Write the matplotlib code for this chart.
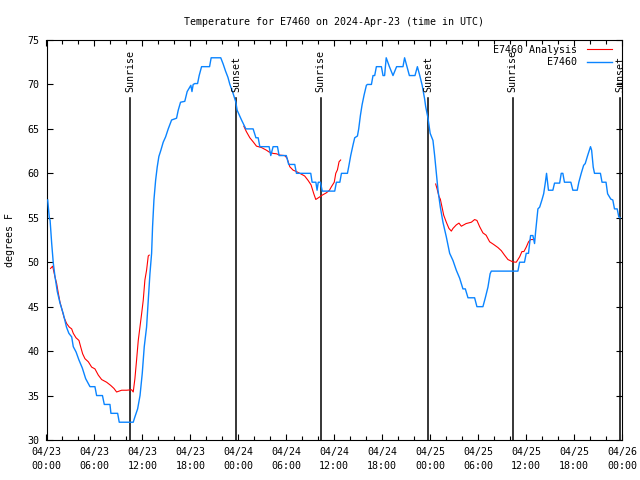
"""Temperature for E7460, observation vs analysis (gnuplot look)."""

from datetime import datetime, timedelta

import matplotlib

matplotlib.use("Agg")
import matplotlib.dates as mdates
import numpy as np
from matplotlib import pyplot as plt

START = datetime(2024, 4, 23)

# hours since 04/23 00:00 UTC
obs_hours = [
    0.15, 0.35, 0.45, 0.65, 0.85, 1.06, 1.35, 1.69, 2.1, 2.5, 2.8, 3.15, 3.35, 3.7,
    4.06, 4.48, 4.9, 5.44, 6.06, 6.27, 7.0, 7.23, 7.94, 8.06, 8.9, 9.1, 10.85,
    11.06, 11.4, 11.7, 11.98, 12.23, 12.52, 12.73, 12.94, 13.15, 13.27, 13.44,
    13.65, 13.85, 14.06, 14.31, 14.6, 14.9, 15.23, 15.65, 16.27, 16.48, 16.77,
    17.3, 17.6, 18.06, 18.2, 18.35, 18.56, 18.9, 19.1, 19.4, 20.4, 20.6, 21.8,
    22.1, 22.4, 22.7, 22.94, 23.27, 23.69, 23.85, 24.4, 24.94, 25.85, 26.2,
    26.48, 26.69, 27.85, 28.06, 28.35, 28.9, 29.1, 30.0, 30.3, 31.06, 31.27,
    33.06, 33.23, 33.7, 33.85, 34.0, 34.27, 34.5, 36.06, 36.27, 36.7, 36.9,
    37.65, 37.8, 38.06, 38.35, 38.56, 38.9, 39.06, 39.27, 39.48, 39.73, 40.02,
    40.15, 40.65, 40.85, 41.06, 41.27, 41.9, 42.1, 42.3, 42.5, 42.9, 43.35,
    43.8, 44.6, 44.8, 45.1, 45.4, 46.1, 46.4, 46.7, 47.0, 47.3, 47.44, 47.73,
    48.0, 48.35, 48.56, 48.77, 48.98, 49.27, 49.6, 50.02, 50.44, 50.85, 51.27,
    51.69, 52.1, 52.4, 52.73, 53.56, 53.85, 54.6, 54.9, 55.23, 55.5, 55.65,
    58.98, 59.19, 59.8, 60.02, 60.3, 60.56, 60.85, 61.06, 61.19, 61.48, 61.7,
    61.98, 62.2, 62.4, 62.56, 62.8, 63.35, 63.56, 64.2, 64.4, 64.6, 64.8, 65.6,
    65.85, 66.4, 66.6, 66.9, 67.2, 67.4, 67.7, 68.06, 68.2, 68.4, 68.56, 69.3,
    69.5, 70.0, 70.2, 70.6, 70.85, 71.06, 71.4, 71.6, 71.75,
]
obs_temps = [
    57.0, 55.0, 54.7, 52.1, 49.9, 48.4, 46.7, 45.4, 44.2, 42.7, 42.0, 41.6, 40.5, 39.9,
    39.0, 38.1, 36.9, 36.0, 36.0, 35.0, 35.0, 34.0, 34.0, 33.0, 33.0, 32.0, 32.0,
    32.6, 33.5, 35.0, 37.5, 40.5, 42.7, 45.7, 48.7, 51.0, 54.0, 57.0,
    59.2, 60.7, 61.9, 62.6, 63.5, 64.1, 65.0, 66.0, 66.2, 67.1, 68.0,
    68.1, 69.2, 69.9, 69.2, 70.0, 70.1, 70.1, 71.0, 72.0, 72.0, 73.0, 73.0,
    72.3, 71.5, 70.8, 70.0, 69.2, 68.0, 67.1, 66.0, 65.0, 65.0, 64.0,
    64.0, 63.0, 63.0, 62.0, 63.0, 63.0, 62.0, 62.0, 61.0, 61.0, 60.0,
    60.0, 59.0, 59.0, 58.1, 59.0, 59.0, 58.0, 58.0, 59.0, 59.0, 60.0,
    60.0, 60.7, 62.0, 63.2, 64.0, 64.2, 65.0, 66.5, 67.7, 68.8, 69.9,
    70.0, 70.0, 71.0, 71.0, 72.0, 72.0, 71.0, 71.0, 73.0, 72.0, 71.0,
    72.0, 72.0, 73.0, 72.0, 71.0, 71.0, 72.0, 71.0, 69.9, 68.4, 67.5, 66.2,
    64.5, 63.7, 62.0, 60.0, 58.1, 56.2, 54.5, 52.85, 51.0, 50.2, 49.1,
    48.2, 47.0, 47.0, 46.0, 46.0, 45.0, 45.0, 46.0, 47.2, 48.7, 49.0,
    49.0, 50.0, 50.0, 51.0, 51.0, 53.0, 53.0, 52.1, 53.4, 56.0, 56.2,
    57.0, 57.7, 58.9, 60.0, 58.1, 58.1, 58.9, 58.9, 60.0, 60.0, 59.0, 59.0,
    58.1, 58.1, 59.0, 60.0, 60.9, 61.1, 62.0, 63.0, 62.6, 60.7, 60.0, 60.0,
    59.0, 59.0, 57.7, 57.1, 57.0, 56.0, 56.0, 55.1, 55.0,
]

# analysis runs, NaN separates the three pieces
ana_hours = [
    0.5, 0.77, 1.06, 1.27, 1.48, 1.69, 1.9, 2.19, 2.52, 2.85, 3.15, 3.35, 3.69,
    4.06, 4.27, 4.52, 4.81, 5.23, 5.65, 6.06, 6.48, 6.9, 7.52, 8.02, 8.44, 8.77,
    9.4, 10.02, 10.65, 10.85, 11.06, 11.27, 11.48, 11.69, 11.9, 12.1, 12.31,
    12.52, 12.73, 12.85, np.nan,
    24.69, 25.0, 25.44, 25.85, 26.27, 26.9, 27.52, 27.85, 28.35, 28.77, 29.19,
    29.8, 30.1, 30.44, 30.85, 31.27, 31.69, 32.3, 32.73, 33.1, 33.44, 33.69,
    34.1, 34.5, 35.0, 35.4, 35.65, 36.0, 36.19, 36.4, 36.6, 36.8, np.nan,
    48.69, 48.85, 49.1, 49.27, 49.52, 49.69, 50.02, 50.35, 50.65, 50.85, 51.27,
    51.6, 51.9, 52.5, 53.15, 53.56, 53.85, 54.19, 54.6, 55.0, 55.44, 55.94,
    56.48, 56.9, 57.3, 57.73, 58.35, 58.77, 59.19, 59.48, 59.73, 60.02, 60.31,
    60.56, 60.85,
]
ana_temps = [
    49.3, 49.55, 48.35, 47.6, 46.5, 45.5, 44.8, 43.8, 43.1, 42.7, 42.5, 42.0, 41.5,
    41.2, 40.5, 39.7, 39.15, 38.8, 38.2, 38.0, 37.3, 36.8, 36.5, 36.15, 35.8, 35.4,
    35.6, 35.6, 35.65, 35.4, 36.9, 39.0, 41.2, 42.7, 44.2, 45.7, 48.0,
    49.1, 50.7, 50.8, np.nan,
    65.3, 64.7, 64.0, 63.55, 63.06, 62.9, 62.6, 62.4, 62.24, 62.2, 62.05,
    62.0, 61.7, 60.74, 60.36, 60.2, 60.0, 59.7, 59.2, 58.7, 57.7, 57.06,
    57.3, 57.55, 57.8, 58.1, 58.5, 59.0, 60.0, 60.4, 61.3, 61.5, np.nan,
    58.8, 58.3, 57.4, 57.1, 56.05, 55.3, 54.5, 53.8, 53.5, 53.8, 54.2,
    54.4, 54.05, 54.35, 54.5, 54.8, 54.7, 54.0, 53.3, 53.04, 52.3, 52.0,
    51.65, 51.3, 50.8, 50.3, 50.04, 50.0, 50.6, 51.2, 51.2, 51.7, 52.3,
    52.55, 52.55,
]

sun_hours = [10.45, 23.7, 34.3, 47.72, 58.33, 71.75]
sun_labels = ["Sunrise", "Sunset", "Sunrise", "Sunset", "Sunrise", "Sunset"]


def hours_to_num(hours):
    return np.array([
        mdates.date2num(START + timedelta(hours=float(h))) if not np.isnan(h) else np.nan
        for h in hours
    ])


FONT = "DejaVu Sans Mono"
FS = 7.2
plt.rcParams["font.family"] = FONT
plt.rcParams["font.size"] = FS

fig = plt.figure(figsize=(6.4, 4.8), dpi=100)
ax = fig.add_axes([46.5 / 640, 40 / 480, 575.5 / 640, 400 / 480])

ax.plot(hours_to_num(ana_hours), ana_temps, color="#ff0000", linewidth=0.8,
        label="E7460 Analysis", zorder=2)
ax.plot(hours_to_num(obs_hours), obs_temps, color="#0a84ff", linewidth=1.0,
        label="E7460", zorder=3)

trans = ax.get_xaxis_transform()
for h, lab in zip(sun_hours, sun_labels):
    xd = mdates.date2num(START + timedelta(hours=h))
    ax.axvline(xd, ymin=0, ymax=0.855, color="black", linewidth=1.1, zorder=1)
    ax.text(xd, 0.87, lab, rotation=90, transform=trans, ha="center", va="bottom",
            fontsize=FS)

ax.set_xlim(mdates.date2num(START), mdates.date2num(START + timedelta(hours=72)))
ax.set_ylim(30, 75)
ax.set_yticks(range(30, 76, 5))
ax.xaxis.set_major_locator(mdates.HourLocator(byhour=[0, 6, 12, 18]))
ax.xaxis.set_minor_locator(mdates.HourLocator(byhour=range(0, 24, 2)))
ax.xaxis.set_major_formatter(mdates.DateFormatter("%m/%d\n%H:%M"))
ax.tick_params(which="both", direction="in", top=True, right=True, width=0.8)
ax.tick_params(which="major", length=4, labelsize=FS)
ax.tick_params(which="minor", length=3)
ax.tick_params(axis="x", pad=5)
ax.tick_params(axis="y", pad=5)
plt.setp(ax.get_xticklabels(), linespacing=1.45)
for s in ax.spines.values():
    s.set_linewidth(0.8)

ax.set_title("Temperature for E7460 on 2024-Apr-23 (time in UTC)", fontsize=FS, pad=11)
fig.text(10 / 640, 0.5, "degrees F", rotation=90, ha="center", va="center", fontsize=FS)

ax.legend(loc="upper right", bbox_to_anchor=(0.983, 0.988), markerfirst=False,
          frameon=False, borderpad=0, borderaxespad=0, handlelength=2.5,
          handletextpad=1.0, labelspacing=0.25, fontsize=FS)

fig.savefig("out.png", dpi=100)
